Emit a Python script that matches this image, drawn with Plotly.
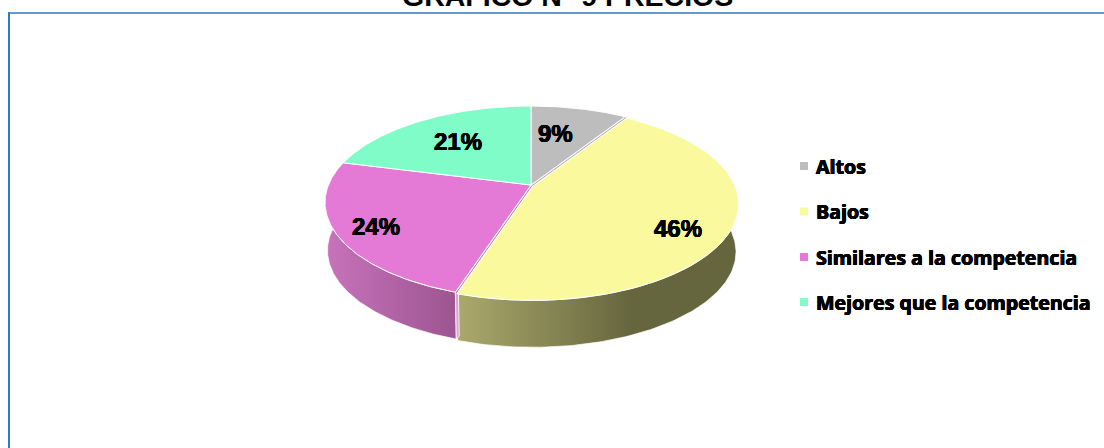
import numpy as np
import plotly.graph_objects as go

# Survey shares, clockwise from twelve o'clock
categories = ["Altos", "Bajos", "Similares a la competencia", "Mejores que la competencia"]
shares = [9, 46, 24, 21]
top_colors = ["#BDBDBD", "#FBF99E", "#E57AD6", "#7FFCC8"]
seam_colors = ["#9C9C9C", None, "#B565AC", None]

# Wall shading, left edge to right edge of each visible wall
wall_ramps = {
    "Bajos": [[0, "#ABA96C"], [0.62, "#66663E"], [1, "#66663E"]],
    "Similares a la competencia": [[0, "#C873BC"], [1, "#9C5590"]],
}

# Chart geometry in page pixels
CX, CY = 531.0, 185.0
RX, RY = 202.6, 93.3
TILT = 0.181
WALL_DY = 48.0
WALL_SCALE = 0.988
EXPLODE = {"Bajos": (1.5, 1.5)}
ELLIPSE_CY = 202.5
INK = "0.4px 0 0 #000, -0.4px 0 0 #000, 0 0.4px 0 #000, 0 -0.4px 0 #000"


def project(theta, frac=1.0):
    """Perspective projection of a disc point; theta is clockwise from the top."""
    u, v = frac * np.sin(theta), frac * np.cos(theta)
    s = 1.0 / (1.0 + TILT * v)
    return CX + RX * u * s, CY - RY * v * s


def drop(x, y):
    """Matching point on the lower rim."""
    return CX + WALL_SCALE * (x - CX), ELLIPSE_CY + WALL_SCALE * (y - ELLIPSE_CY) + WALL_DY


fig = go.Figure()

edges = 2 * np.pi * np.cumsum([0] + shares) / sum(shares)
spans = list(zip(categories, top_colors, edges[:-1], edges[1:]))

# Side walls first, only where the rim faces the viewer
for name, color, a0, a1 in spans:
    if name not in wall_ramps:
        continue
    lo, hi = max(a0, np.pi / 2 - 0.18), min(a1, 3 * np.pi / 2 + 0.18)
    t = np.linspace(lo, hi, 120)
    dx, dy = EXPLODE.get(name, (0, 0))
    xt, yt = project(t)
    xb, yb = drop(xt, yt)
    xs = np.concatenate([xt, xb[::-1], xt[:1]]) + dx
    ys = np.concatenate([yt, yb[::-1], yt[:1]]) + dy
    fig.add_trace(go.Scatter(
        x=xs, y=ys, mode="lines", fill="toself",
        line=dict(color="rgba(255,255,255,0.85)", width=0.8),
        fillgradient=dict(type="horizontal", colorscale=wall_ramps[name],
                          start=float(xs.min()), stop=float(xs.max())),
        hoverinfo="skip", showlegend=False,
    ))
    if name == "Similares a la competencia":
        # Narrow cut face left showing beside the neighbouring slice
        xe, ye = project(np.array([a0]))
        xd, yd = drop(xe, ye)
        fig.add_trace(go.Scatter(
            x=[xe[0], xe[0] + 3, xd[0] + 3, xd[0], xe[0]],
            y=[ye[0], ye[0] - 3, yd[0] - 3, yd[0], ye[0]],
            mode="lines", fill="toself", fillcolor="#D9A6D2",
            line=dict(color="#FFFFFF", width=0.8),
            hoverinfo="skip", showlegend=False,
        ))

# Top faces
for name, color, a0, a1 in spans:
    t = np.linspace(a0, a1, 160)
    xr, yr = project(t)
    dx, dy = EXPLODE.get(name, (0, 0))
    xs = np.concatenate([[CX], xr, [CX]]) + dx
    ys = np.concatenate([[CY], yr, [CY]]) + dy
    fig.add_trace(go.Scatter(
        x=xs, y=ys, mode="lines", fill="toself", fillcolor=color,
        line=dict(color="#FFFFFF", width=1.0),
        hoverinfo="skip", showlegend=False,
    ))

# Thin shaded seams where a slice's side shows along the gap
for seam, a_start, a_end in zip(seam_colors, edges[:-1], edges[1:]):
    if seam is None:
        continue
    a_edge = a_end if seam == seam_colors[0] else a_start
    xe, ye = project(np.array([a_edge]))
    fig.add_trace(go.Scatter(
        x=[CX + 0.8, xe[0] + 0.8], y=[CY + 0.8, ye[0] + 0.8], mode="lines",
        line=dict(color=seam, width=0.9), hoverinfo="skip", showlegend=False,
    ))

# Key: one square per category, evenly stepped down the right side
key_x = 804
key_y = [166, 211.5, 257, 302]
fig.add_trace(go.Scatter(
    x=[key_x] * len(categories), y=key_y, mode="markers",
    marker=dict(symbol="square", size=8, color=top_colors),
    hoverinfo="skip", showlegend=False,
))
annotations = [
    dict(x=816, y=y, text=name, showarrow=False, xanchor="left", yanchor="middle", xshift=-2,
         font=dict(family="Open Sans", size=19.6, color="#000000", weight=700, shadow=INK))
    for name, y in zip(categories, key_y)
]

# Percentage labels
label_xy = [(555, 133), (678, 228), (376, 226), (458, 141)]
annotations += [
    dict(x=x, y=y, text=f"{v}%", showarrow=False, xanchor="center", yanchor="middle",
         font=dict(family="Liberation Sans", size=24, color="#000000", weight=700, shadow=INK))
    for (x, y), v in zip(label_xy, shares)
]
# Title, cut by the top of the page
annotations.append(dict(
    x=567.5, y=7, yanchor="bottom", xanchor="center", showarrow=False, yshift=-7,
    text="GRÁFICO N° 9 PRECIOS",
    font=dict(family="Liberation Sans", size=28.5, color="#000000", weight=700),
))

fig.update_layout(
    width=1104, height=448,
    margin=dict(l=0, r=0, t=0, b=0),
    paper_bgcolor="#FFFFFF", plot_bgcolor="#FFFFFF",
    xaxis=dict(range=[0, 1104], visible=False, fixedrange=True),
    yaxis=dict(range=[448, 0], visible=False, fixedrange=True),
    annotations=annotations,
    showlegend=False,
    shapes=[
        dict(type="line", xref="x", yref="y", x0=8, y0=13, x1=1104, y1=13,
             line=dict(color="#2A7AC6", width=1.5)),
        dict(type="line", xref="x", yref="y", x0=9, y0=12.25, x1=9, y1=448,
             line=dict(color="#2A7AC6", width=2)),
    ],
)

fig.write_html("out.html")
